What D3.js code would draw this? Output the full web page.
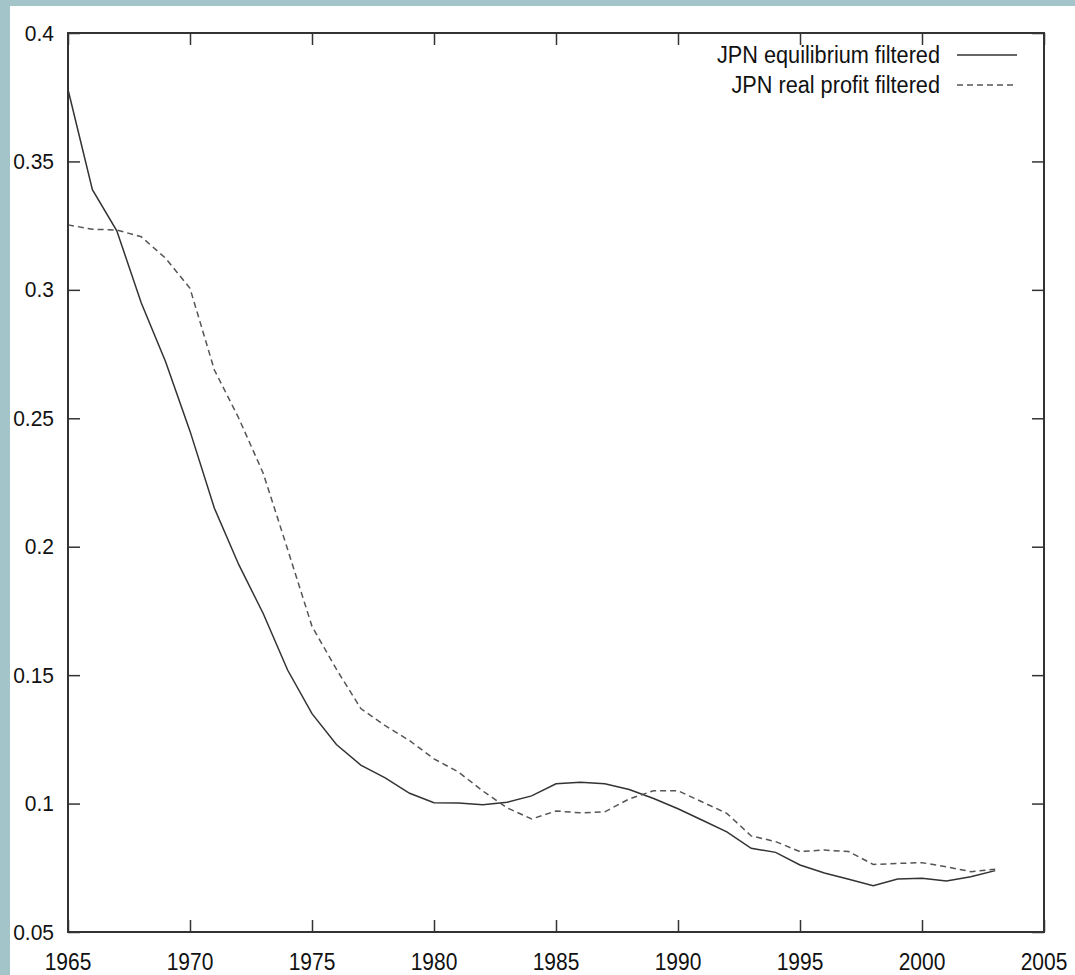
<!DOCTYPE html>
<html>
<head>
<meta charset="utf-8">
<script src="https://cdn.jsdelivr.net/npm/d3@7"></script>
<style>
  html, body { margin: 0; padding: 0; background: #a3c4c8; }
  svg { display: block; }
  text { font-family: "Liberation Sans", Arial, sans-serif; fill: #111; }
</style>
</head>
<body>
<svg id="chart" width="1075" height="975"></svg>
<script>
const years = d3.range(1965, 2004);
const equilibrium = [
  0.378, 0.339, 0.323, 0.295, 0.272, 0.245, 0.215, 0.193, 0.174, 0.152,
  0.135, 0.123, 0.115, 0.110, 0.104, 0.1003, 0.1002, 0.0995, 0.1005, 0.103,
  0.1077, 0.1083, 0.1077, 0.1055, 0.102, 0.098, 0.0935, 0.089, 0.0826, 0.081,
  0.0761, 0.073, 0.0705, 0.068, 0.0706, 0.0709, 0.0699, 0.0715, 0.0739
];
const realProfit = [
  0.3253, 0.3236, 0.3233, 0.3207, 0.3123, 0.3006, 0.2688, 0.250, 0.2286, 0.199,
  0.169, 0.1523, 0.137, 0.1303, 0.1245, 0.1174, 0.1123, 0.1049, 0.0983, 0.094,
  0.0971, 0.0964, 0.0968, 0.1018, 0.105, 0.105, 0.1006, 0.0962, 0.0874, 0.0852,
  0.0813, 0.0819, 0.0813, 0.0763, 0.0767, 0.077, 0.0754, 0.0735, 0.0744
];
const xTicks = [1965, 1970, 1975, 1980, 1985, 1990, 1995, 2000, 2005];
const yTicks = [0.05, 0.1, 0.15, 0.2, 0.25, 0.3, 0.35, 0.4];
const yTickLabels = ["0.05", "0.1", "0.15", "0.2", "0.25", "0.3", "0.35", "0.4"];
const seriesNames = ["JPN equilibrium filtered", "JPN real profit filtered"];

const svg = d3.select("#chart");
// white page area
svg.append("rect").attr("x", 10).attr("y", 6).attr("width", 1065).attr("height", 969).attr("fill", "#ffffff");

const mLeft = 68, mRight = 1044, mTop = 33, mBottom = 932;
const x = d3.scaleLinear().domain([1965, 2005]).range([mLeft, mRight]);
const y = d3.scaleLinear().domain([0.05, 0.4]).range([mBottom, mTop]);

const axisColor = "#333";
const tickLen = 12;

// ticks (inward, mirrored)
const g = svg.append("g");
const bottomAxis = d3.axisBottom(x).tickValues(xTicks).tickSize(-tickLen).tickFormat("").tickSizeOuter(0);
const topAxis = d3.axisTop(x).tickValues(xTicks).tickSize(-tickLen).tickFormat("").tickSizeOuter(0);
const leftAxis = d3.axisLeft(y).tickValues(yTicks).tickSize(-tickLen).tickFormat("").tickSizeOuter(0);
const rightAxis = d3.axisRight(y).tickValues(yTicks).tickSize(-tickLen).tickFormat("").tickSizeOuter(0);
[[bottomAxis, `translate(0,${mBottom})`], [topAxis, `translate(0,${mTop})`],
 [leftAxis, `translate(${mLeft},0)`], [rightAxis, `translate(${mRight},0)`]].forEach(([ax, tr]) => {
  const a = g.append("g").attr("transform", tr).call(ax);
  a.select(".domain").remove();
  a.selectAll(".tick line").attr("stroke", axisColor).attr("stroke-width", 1.5);
});

// tick labels
svg.append("g").selectAll("text").data(yTicks).join("text")
  .attr("transform", d => `translate(${mLeft - 14},${y(d) + 7.5}) scale(1,1.08)`)
  .attr("text-anchor", "end").attr("font-size", 21)
  .text((d, i) => yTickLabels[i]);
svg.append("g").selectAll("text").data(xTicks).join("text")
  .attr("transform", d => `translate(${x(d)},${mBottom + 38}) scale(1,1.15)`)
  .attr("text-anchor", "middle").attr("font-size", 21)
  .text(d => d);

// lines
const line = d3.line().x((d, i) => x(years[i])).y(d => y(d));
svg.append("path").datum(equilibrium).attr("d", line)
  .attr("fill", "none").attr("stroke", "#333").attr("stroke-width", 1.5);
svg.append("path").datum(realProfit).attr("d", line)
  .attr("fill", "none").attr("stroke", "#555").attr("stroke-width", 1.5).attr("stroke-dasharray", "6,4");

// legend
const legend = svg.append("g");
const legY = [55, 85];
const dashes = [null, "6,4"];
const strokes = ["#333", "#555"];
seriesNames.forEach((name, i) => {
  legend.append("text")
    .attr("transform", `translate(940,${legY[i] + 8}) scale(1,1.08)`)
    .attr("text-anchor", "end").attr("font-size", 21.7).text(name);
  legend.append("line").attr("x1", 957).attr("x2", 1017).attr("y1", legY[i]).attr("y2", legY[i])
    .attr("stroke", strokes[i]).attr("stroke-width", 1.5).attr("stroke-dasharray", dashes[i]);
});

// frame
svg.append("rect").attr("x", mLeft).attr("y", mTop).attr("width", mRight - mLeft).attr("height", mBottom - mTop)
  .attr("fill", "none").attr("stroke", axisColor).attr("stroke-width", 2);
</script>
</body>
</html>
